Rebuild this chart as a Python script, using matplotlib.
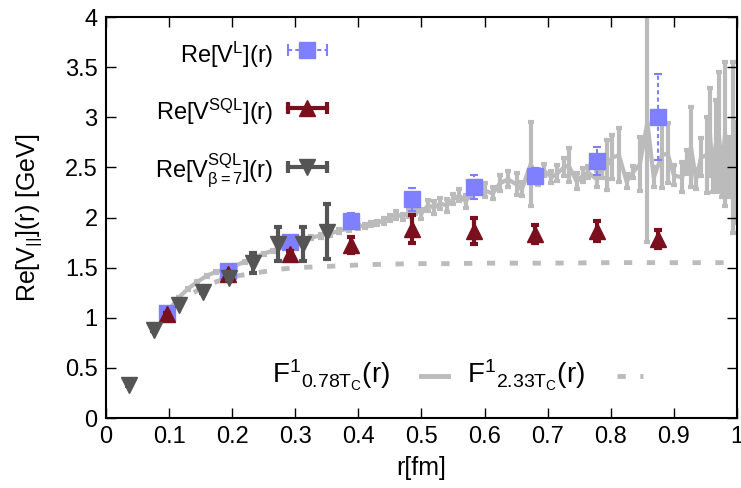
import matplotlib
matplotlib.use('Agg')
import matplotlib.pyplot as plt

plt.rcParams['font.family'] = ['Liberation Sans', 'DejaVu Sans']
plt.rcParams['mathtext.fontset'] = 'custom'
plt.rcParams['mathtext.rm'] = 'Liberation Sans'
plt.rcParams['mathtext.it'] = 'Liberation Sans'
plt.rcParams['mathtext.default'] = 'regular'

# F^1 a 0.78 Tc (donnees reseau, avec barres d'erreur)
f078_r = [0.100, 0.115, 0.130, 0.145, 0.160, 0.175, 0.190, 0.205, 0.220, 0.235,
          0.250, 0.265, 0.280, 0.295, 0.310, 0.325, 0.340, 0.355, 0.370, 0.385,
          0.400, 0.410, 0.420, 0.430, 0.440, 0.450, 0.460, 0.470, 0.480, 0.490,
          0.500, 0.510, 0.520, 0.530, 0.540, 0.550, 0.560, 0.570, 0.580, 0.590,
          0.600, 0.613, 0.624, 0.637, 0.651, 0.659, 0.673, 0.685, 0.694, 0.706,
          0.715, 0.726, 0.733, 0.746, 0.756, 0.764, 0.778, 0.786, 0.794, 0.802,
          0.813, 0.825, 0.835, 0.846, 0.858, 0.868, 0.881, 0.890, 0.900, 0.913,
          0.920, 0.927, 0.935, 0.943, 0.952, 0.957, 0.962, 0.966, 0.971, 0.976,
          0.981, 0.988, 0.994, 1.000]
f078_v = [1.08, 1.20, 1.29, 1.36, 1.42, 1.46, 1.48, 1.52, 1.56, 1.60,
          1.64, 1.67, 1.71, 1.74, 1.77, 1.80, 1.82, 1.84, 1.87, 1.89,
          1.91, 1.92, 1.94, 1.95, 1.97, 2.00, 2.03, 2.01, 2.05, 2.09,
          2.04, 2.12, 2.10, 2.14, 2.12, 2.18, 2.22, 2.16, 2.25, 2.30,
          2.27, 2.24, 2.34, 2.38, 2.33, 2.28, 2.53, 2.40, 2.47, 2.40,
          2.44, 2.50, 2.52, 2.36, 2.42, 2.45, 2.38, 2.47, 2.52, 2.60,
          2.62, 2.36, 2.45, 2.53, 2.95, 2.40, 2.62, 2.64, 2.42, 2.40,
          2.55, 2.70, 2.38, 2.60, 2.62, 2.85, 2.40, 2.72, 2.85, 2.45,
          2.83, 2.50, 2.70, 2.45]
f078_e = [0.01, 0.01, 0.01, 0.01, 0.01, 0.01, 0.01, 0.01, 0.01, 0.01,
          0.01, 0.01, 0.015, 0.015, 0.015, 0.015, 0.02, 0.02, 0.02, 0.02,
          0.02, 0.02, 0.02, 0.02, 0.03, 0.03, 0.04, 0.03, 0.04, 0.05,
          0.05, 0.05, 0.06, 0.05, 0.06, 0.05, 0.06, 0.06, 0.05, 0.06,
          0.07, 0.06, 0.08, 0.08, 0.11, 0.07, 0.42, 0.08, 0.06, 0.06,
          0.08, 0.09, 0.17, 0.08, 0.07, 0.06, 0.08, 0.08, 0.25, 0.22,
          0.27, 0.07, 0.06, 0.27, 1.19, 0.10, 0.33, 0.30, 0.10, 0.15,
          0.12, 0.40, 0.10, 0.19, 0.38, 0.44, 0.15, 0.45, 0.60, 0.25,
          0.72, 0.30, 0.85, 0.50]

# F^1 a 2.33 Tc
f233_r = [0.11, 0.13, 0.15, 0.17, 0.20, 0.23, 0.27, 0.30, 0.34, 0.38,
          0.41, 0.45, 0.49, 0.55, 0.60, 0.70, 0.80, 0.90, 1.00]
f233_v = [1.12, 1.22, 1.29, 1.35, 1.41, 1.44, 1.48, 1.50, 1.51, 1.52,
          1.53, 1.535, 1.54, 1.54, 1.545, 1.545, 1.55, 1.55, 1.55]

# Re[V^L](r)
vl_r = [0.097, 0.194, 0.291, 0.388, 0.485, 0.583, 0.680, 0.778, 0.875]
vl_v = [1.05, 1.47, 1.76, 1.97, 2.18, 2.30, 2.41, 2.56, 3.00]
vl_e = [0.01, 0.01, 0.02, 0.08, 0.11, 0.12, 0.08, 0.14, 0.43]

# Re[V^SQL](r)
sql_r = [0.097, 0.194, 0.291, 0.388, 0.485, 0.583, 0.680, 0.778, 0.875]
sql_v = [1.04, 1.44, 1.64, 1.73, 1.89, 1.87, 1.84, 1.87, 1.79]
sql_e = [0.01, 0.02, 0.03, 0.08, 0.14, 0.13, 0.09, 0.10, 0.09]

# Re[V^SQL_beta=7](r)
b7_r = [0.037, 0.076, 0.116, 0.154, 0.195, 0.233, 0.272, 0.312, 0.350]
b7_v = [0.33, 0.88, 1.13, 1.26, 1.40, 1.55, 1.74, 1.74, 1.86]
b7_e = [0.01, 0.01, 0.01, 0.01, 0.02, 0.10, 0.17, 0.17, 0.27]

gris_clair = '#bbbbbb'
gris_fonce = '#555555'
bordeaux = '#7a0f1e'
bleu = '#7f80ff'
tirets = (1.7, 3.0)

fig = plt.figure(figsize=(7.41, 4.88), dpi=100)
ax = fig.add_axes([0.143, 0.1434, 0.8516, 0.8217])

ax.errorbar(f078_r, f078_v, yerr=f078_e, color=gris_clair, lw=3, elinewidth=3,
            capsize=2.5, capthick=3, zorder=1)
ax.plot(f233_r, f233_v, color=gris_clair, lw=3.5, dashes=tirets, zorder=2)

eb = ax.errorbar(vl_r, vl_v, yerr=vl_e, fmt='s', color=bleu, ms=11.5, elinewidth=1.5,
                 capsize=3, capthick=1.5, zorder=3)
for c in eb[2]:
    c.set_linestyle((0, (2, 1.5)))
ax.errorbar(sql_r, sql_v, yerr=sql_e, fmt='^', color=bordeaux, ms=12, elinewidth=3,
            capsize=3, capthick=3, zorder=4)
ax.errorbar(b7_r, b7_v, yerr=b7_e, fmt='v', color=gris_fonce, ms=12, elinewidth=3,
            capsize=3, capthick=3, zorder=5)

ax.set_xlim(0, 1)
ax.set_ylim(0, 4)
ax.set_xticks([0, 0.1, 0.2, 0.3, 0.4, 0.5, 0.6, 0.7, 0.8, 0.9, 1])
ax.set_xticklabels(['0', '0.1', '0.2', '0.3', '0.4', '0.5', '0.6', '0.7', '0.8', '0.9', '1'])
ax.set_yticks([0, 0.5, 1, 1.5, 2, 2.5, 3, 3.5, 4])
ax.set_yticklabels(['0', '0.5', '1', '1.5', '2', '2.5', '3', '3.5', '4'])
ax.tick_params(direction='in', length=7, width=1, top=True, right=True, labelsize=17, pad=6)
for s in ax.spines.values():
    s.set_linewidth(1.5)

ax.set_xlabel('r[fm]', fontsize=18)
ax.xaxis.set_label_coords(0.5, -0.095)
ax.set_ylabel(r'Re[V$_{||}$](r) [GeV]', fontsize=18)
ax.yaxis.set_label_coords(-0.098, 0.5)

# legende en haut a gauche, style gnuplot (texte a droite aligne)
tr = ax.transAxes
textes = [r'Re[V$^{L}$](r)', r'Re[V$^{SQL}$](r)', r'Re[V$^{SQL}_{\beta=7}$](r)']
y_txt = [0.885, 0.743, 0.601]
y_ech = [0.918, 0.773, 0.626]
styles = [(bleu, 's', 11.5, (0, (2, 1.5)), 1.5), (bordeaux, '^', 12, '-', 3),
          (gris_fonce, 'v', 12, '-', 3)]
for t, yt, ye, (col, mk, ms, ls, lw) in zip(textes, y_txt, y_ech, styles):
    ax.text(0.265, yt, t, transform=tr, ha='right', va='baseline', fontsize=17)
    ax.plot([0.288, 0.350], [ye, ye], transform=tr, color=col, lw=lw, ls=ls, clip_on=False)
    ax.plot([0.288, 0.350], [ye, ye], transform=tr, color=col, lw=0, marker='|',
            ms=8, mew=lw, clip_on=False)
    ax.plot([0.319], [ye], transform=tr, color=col, marker=mk, ms=ms, lw=0, clip_on=False)

# legende du bas
ax.text(0.263, 0.087, r'F$^{1}{}_{0.78T_{C}}$(r)', transform=tr, ha='left',
        va='baseline', fontsize=20)
ax.plot([0.50, 0.542], [0.105, 0.105], transform=tr, color=gris_clair, lw=3.5)
ax.text(0.572, 0.087, r'F$^{1}{}_{2.33T_{C}}$(r)', transform=tr, ha='left',
        va='baseline', fontsize=20)
ax.plot([0.81, 0.851], [0.105, 0.105], transform=tr, color=gris_clair, lw=3.5,
        dashes=tirets)

fig.savefig('out.png', dpi=100)
